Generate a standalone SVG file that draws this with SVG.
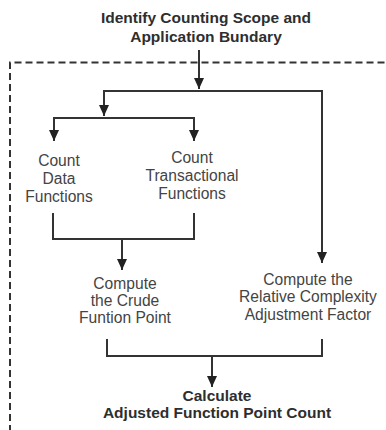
<svg xmlns="http://www.w3.org/2000/svg" width="386" height="430" viewBox="0 0 386 430">
  <style>
    .bold { font-family: "Liberation Sans", Arial, sans-serif; font-size: 15.5px; font-weight: bold; fill: #2e2e2e; text-anchor: middle; }
    .lbl { font-family: "Liberation Sans", Arial, sans-serif; font-size: 15.6px; fill: #444; text-anchor: middle; }
    .wire { fill: none; stroke: #333; stroke-width: 2; }
    .frame { fill: none; stroke: #333; stroke-width: 2; stroke-dasharray: 7 4; }
  </style>
  <defs>
    <marker id="arrow" markerUnits="userSpaceOnUse" markerWidth="12" markerHeight="12" viewBox="0 0 12 12" refX="11" refY="6" orient="auto">
      <path d="M0,1 L11,6 L0,11 Z" fill="#222"/>
    </marker>
  </defs>
  <rect width="386" height="430" fill="#fff"/>

  <!-- process boundary -->
  <path class="frame" d="M10,432 V62.5 H390"/>

  <g id="connectors">
    <path class="wire" d="M199,50 V89" marker-end="url(#arrow)"/>
    <path class="wire" d="M199,91 H104 V116" marker-end="url(#arrow)"/>
    <path class="wire" d="M199,91 H322 V263" marker-end="url(#arrow)"/>
    <path class="wire" d="M104,118 H54 V141" marker-end="url(#arrow)"/>
    <path class="wire" d="M104,118 H194 V141" marker-end="url(#arrow)"/>
    <path class="wire" d="M53,213 V239 H194 V213"/>
    <path class="wire" d="M122,239 V270" marker-end="url(#arrow)"/>
    <path class="wire" d="M107,339 V356 H322 V339"/>
    <path class="wire" d="M212,356 V387" marker-end="url(#arrow)"/>
  </g>

  <g id="scope">
    <text class="bold" x="206" y="23">Identify Counting Scope and</text>
    <text class="bold" x="206" y="42">Application Bundary</text>
  </g>
  <g id="data-functions">
    <text class="lbl" x="59" y="166">Count</text>
    <text class="lbl" x="59" y="184">Data</text>
    <text class="lbl" x="59" y="202">Functions</text>
  </g>
  <g id="transactional-functions">
    <text class="lbl" x="192" y="163">Count</text>
    <text class="lbl" x="192" y="181">Transactional</text>
    <text class="lbl" x="192" y="199">Functions</text>
  </g>
  <g id="crude-point">
    <text class="lbl" x="125" y="289">Compute</text>
    <text class="lbl" x="125" y="306">the Crude</text>
    <text class="lbl" x="125" y="323">Funtion Point</text>
  </g>
  <g id="adjustment-factor">
    <text class="lbl" x="308" y="285">Compute the</text>
    <text class="lbl" x="308" y="302">Relative Complexity</text>
    <text class="lbl" x="308" y="320">Adjustment Factor</text>
  </g>
  <g id="adjusted-count">
    <text class="bold" x="217" y="401">Calculate</text>
    <text class="bold" x="217" y="418">Adjusted Function Point Count</text>
  </g>
</svg>
